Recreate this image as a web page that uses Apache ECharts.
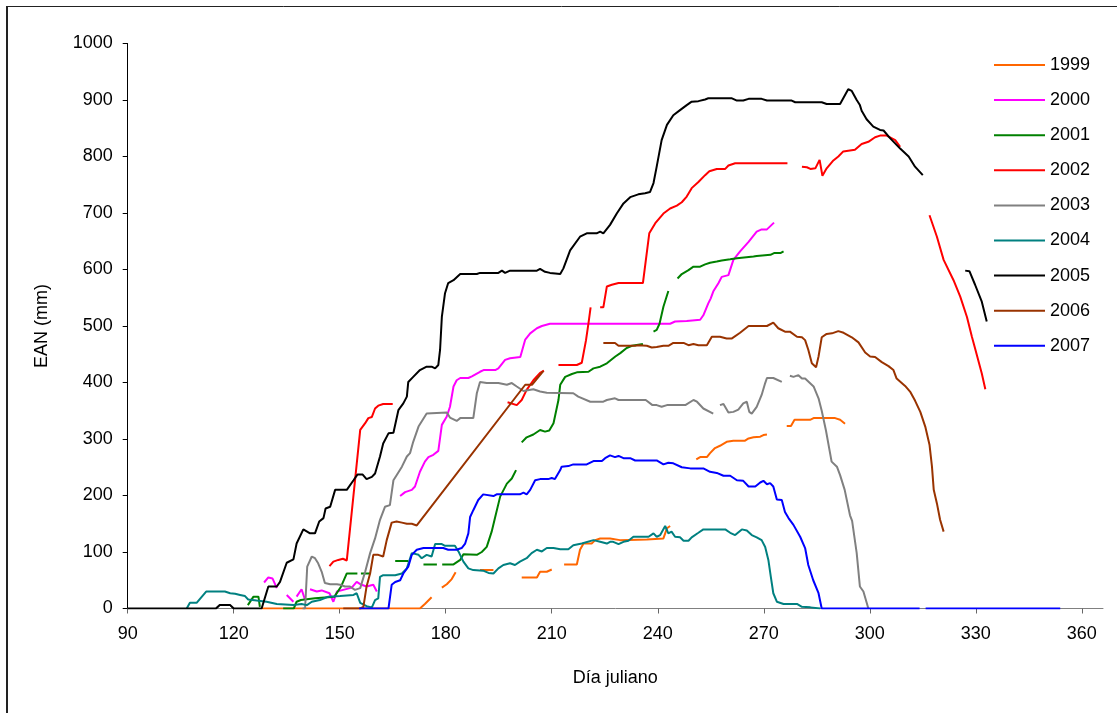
<!DOCTYPE html>
<html>
<head>
<meta charset="utf-8">
<script src="https://cdn.jsdelivr.net/npm/echarts@6/dist/echarts.min.js"></script>
<style>
  html, body { margin: 0; padding: 0; background: #ffffff; }
  #chart { width: 1117px; height: 713px; }
</style>
</head>
<body>
<div id="chart"></div>
<script>
// Seasonal EAN (mm) by julian day, one series per year.
// Each series is a list of unbroken segments of [day, value] pairs.
const years = ['1999', '2000', '2001', '2002', '2003', '2004', '2005', '2006', '2007'];
const colors = ['#FF6600', '#FF00FF', '#008000', '#FF0000', '#808080', '#008080', '#000000', '#993300', '#0000FF'];
const xTicks = [90, 120, 150, 180, 210, 240, 270, 300, 330, 360];

const s1999 = [
  [[127.9,0],[172.7,0],[174.1,8],[176,20]],
  [[178.9,37],[180.3,43],[181.7,52],[182.8,64]],
  [[189.7,68],[193.5,68]],
  [[201.5,55],[205.8,55],[206.7,65],[208.6,65],[210,69]],
  [[213.5,78],[217.1,78],[218,104],[219,115],[221.3,115],[222.3,121],[223.7,124],[226.5,124],[229.3,121],[236.9,122],[241.6,124],[242.1,133],[242.6,142],[243.5,146]],
  [[250.9,264],[252,268],[253.9,268],[254.8,275],[256.2,284],[257.6,288],[259.5,295],[261.4,297],[264.7,297],[265.7,301],[267.1,303],[269,304],[269.9,307],[270.9,308]],
  [[276.5,323],[277.7,323],[278.7,334],[283.1,334],[284.1,337],[290.2,337],[291.6,334],[293,327]]
];

const s2000 = [
  [[128.6,46],[129.8,55],[131,53],[132.2,36]],
  [[135,24],[136.9,12]],
  [[137.8,21],[139.2,34],[140.2,15]],
  [[141.6,34],[143.5,30],[144.9,32],[147.1,27],[148.2,12],[149.2,30],[151,33],[153.4,37],[154.8,47],[155.8,43],[157.6,39],[159.5,42],[160.5,30]],
  [[167.1,199],[168.5,206],[170.4,210],[171.3,216],[172.7,242],[174.1,260],[175.1,268],[176.5,272],[177.9,279],[178.9,325],[180.3,340],[181.2,357],[182.2,393],[183.1,404],[184.1,408],[186.4,408],[187.4,411],[189.7,419],[190.7,422],[194,422],[194.9,425],[196.8,440],[198.2,443],[201.1,445],[202.5,476],[203.9,487],[205.8,496],[207.2,500],[209.5,504],[243.5,504],[244.9,508],[248.2,509],[252,511],[252.9,519],[254.3,540],[255,549],[255.7,561],[257.2,576],[258.1,587],[260,590],[261.4,617],[263.3,632],[265.7,649],[268,667],[269.4,671],[270.9,671],[272.9,683]]
];

const s2001 = [
  [[124,6],[125.6,21],[127,21],[127.4,3]],
  [[134,0],[137,0],[137.8,12],[139,15],[143,18],[148.5,21],[150.4,39],[152,62],[155,62]],
  [[156,62],[158.6,62]],
  [[165.7,84],[169.4,84]],
  [[173.7,78],[177.5,78]],
  [[179,78],[182.2,78],[184.1,86],[185,96],[188.8,95],[190.2,100],[191.6,109],[193,136],[194,162],[195.4,198],[197.3,221],[198.7,230],[199.9,245]],
  [[201.5,294],[202.9,303],[204.8,308],[206.7,316],[208.1,313],[209.3,315],[210.5,328],[211.9,369],[212.4,396],[213.8,410],[215.7,415],[217.1,418],[220.4,419],[221.8,425],[223.7,428],[225.6,434],[228,446],[229.4,452],[231.2,461],[232.7,465],[235.8,468]],
  [[238.8,490],[239.7,493],[240.5,504],[241.6,534],[243,562]],
  [[245.6,584],[246.8,592],[248.7,599],[250.1,605],[252,605],[253.4,609],[254.8,612],[256.7,614],[258.1,616],[260.5,618],[262.4,620],[267.1,623],[268,624],[271.9,626],[272.9,629],[274.7,629],[275.6,632]]
];

const s2002 = [
  [[147.1,75],[148.2,83],[149.6,86],[150.9,88],[152,85],[155.8,316],[157.2,328],[158.1,337],[159.1,339],[160,354],[160.9,359],[162.3,362],[165,362]],
  [[197.5,365],[200.1,360],[201.5,369],[202.9,387],[204.8,404],[206.7,417],[207.8,421]],
  [[211.9,431],[217.1,431],[218.5,435],[219,435],[219.7,475],[220.4,505],[221,533]],
  [[223.7,533],[224.6,533],[225.6,570],[227,573],[228.9,576],[235.8,576],[237.6,664],[239.3,682],[241.6,699],[243.5,708],[245.4,713],[246.8,719],[248.2,729],[249.6,744],[251.5,755],[253.4,767],[254.6,774],[256.7,778],[259.1,778],[260,784],[261.9,788],[276.7,788]],
  [[280.8,782],[282.2,781],[283.2,778],[284.6,779],[285.8,794],[286.6,766],[287.8,779],[289.7,793],[291.1,800],[292.5,809],[295.8,812],[297.7,822],[299.6,826],[301.5,834],[302.9,837],[304.8,837],[307.2,829],[308.6,817]],
  [[316.9,696],[319,658],[320.9,617],[323.7,581],[325.6,552],[327.5,516],[328.9,481],[329.9,458],[331.7,416],[332.7,388]]
];

const s2003 = [
  [[115,0],[116,6],[119,6],[120,0]],
  [[139.5,0],[140.2,0],[140.8,74],[142.1,92],[143,89],[143.9,80],[144.9,65],[145.8,45],[147.3,43],[149.2,43],[150.1,42],[151.5,39],[152.9,39],[154.3,33],[155.8,36],[157.2,65],[158.6,98],[160,124],[161.4,157],[162.8,180],[164.2,183],[165.2,227],[166.1,236],[167.6,251],[169,269],[169.9,275],[170.8,295],[172.3,322],[174.6,345],[180.3,347],[181.2,338],[183.1,332],[184.1,337],[187.8,337],[188.8,381],[189.7,401],[191.6,399],[194.9,399],[197.3,396],[198.7,399],[200.1,393],[202,385],[204.8,388],[206.7,384],[208.6,382],[216.1,381],[217.5,375],[220.9,366],[224.6,366],[225.6,369],[227.9,372],[228.9,369],[236.6,369],[238.5,360],[239.7,360],[241.1,357],[242.6,360],[246.3,360],[246.8,363],[247.8,360],[250.1,369],[251.1,366],[252.9,354],[255.7,345]],
  [[257.6,360],[258.6,362],[260,347],[261.4,348],[262.8,352],[264.2,363],[265.2,366],[265.9,348],[266.6,345],[268,357],[269.4,378],[270.4,399],[270.9,408],[272.7,408],[275.1,401]],
  [[277.4,412],[278.4,410],[279.8,413],[280.8,407],[281.7,407],[284.1,393],[285.5,372],[286.4,350],[287.6,315],[289.2,260],[290.7,251],[291.6,236],[292.9,210],[294.4,165],[295,155],[296.3,98],[297.2,39],[298.2,30],[299.6,0]]
];

const s2004 = [
  [[106.7,0],[107.6,10],[109.5,10],[112.2,30],[117.5,30],[119,27],[120.4,26],[121.8,24],[123.2,22],[124.1,16],[126.5,14],[129.3,12],[132.2,8],[136.9,6],[139.2,8],[140.7,6],[142.1,12],[144.4,15],[146.8,21],[150.1,22],[153.9,24],[154.8,27],[155.8,10],[157.6,4],[159.1,2],[160,15],[160.9,18],[161.4,56],[162.3,59],[165.7,59],[167.6,62],[169,71],[170.4,98],[172.3,95],[173.2,89],[174.6,95],[176,92],[177,114],[178.9,114],[179.8,111],[182.6,111],[183.6,101],[185,83],[186.4,71],[187.8,68],[190.6,67],[192.1,63],[193.5,62],[194.9,71],[196.3,77],[198.2,80],[199.6,77],[201,83],[202.9,89],[204.3,98],[205.8,104],[207.2,101],[208.6,107],[210.5,107],[212.4,105],[214.7,105],[216.1,112],[218.5,115],[221.8,121],[223.7,118],[225.6,115],[226.5,118],[227.4,118],[228.9,114],[230.3,118],[231.7,120],[233.1,127],[237.4,127],[238.8,133],[239.7,127],[240.7,130],[241.1,127],[242.1,146],[243,133],[243.9,136],[244.9,127],[246.3,126],[247.3,120],[248.7,120],[249.6,126],[251.5,134],[252.9,140],[259.1,140],[260.5,134],[261.9,130],[263.8,140],[265.2,138],[266.6,130],[268,126],[269.4,121],[270.4,109],[271.3,86],[272,56],[272.7,27],[273.7,12],[275.6,8],[279.4,8],[280.8,3],[283.2,2],[286,0]]
];

const s2005 = [
  [[90,0],[115,0],[116,6],[119,6],[120,0],[127.9,0],[129.8,39],[132.2,39],[133.1,47],[135,81],[136.9,87],[137.8,115],[139.7,140],[141.6,133],[143,133],[144.2,154],[145.4,160],[146,177],[147.3,180],[148.7,210],[152,210],[153.9,227],[155,237],[156.5,237],[157.6,229],[159.1,233],[160,239],[161.4,269],[162.3,292],[163.8,310],[165.2,311],[166.6,351],[168,363],[169,375],[169.4,401],[170.8,410],[172.7,422],[174.6,428],[176,428],[177,425],[177.9,431],[178.4,458],[178.9,516],[179.8,558],[180.7,576],[182.2,581],[184.1,592],[188.8,592],[189.7,594],[194.9,594],[195.9,598],[196.8,594],[198.2,598],[205.8,598],[206.7,601],[208.1,596],[209.5,594],[211,593],[212.4,592],[213.3,602],[215.2,634],[218,658],[219.9,664],[222.7,664],[223.7,667],[224.6,664],[226.5,679],[228.4,699],[230.3,717],[232.2,728],[234.5,733],[236.4,735],[237.8,737],[238.8,753],[239.7,782],[241.1,829],[242.6,856],[244.4,873],[246.3,882],[248.2,891],[249.6,897],[251.5,898],[253.4,901],[254.3,903],[261,903],[262.4,899],[264.2,899],[265.7,902],[269.4,902],[270.9,899],[277.9,899],[278.9,896],[286.4,896],[287.8,893],[291.6,893],[293.9,919],[294.9,916],[296.3,900],[297.2,891],[297.7,881],[299.1,866],[301,853],[302.9,847],[303.9,846],[305.8,832],[308.6,814],[311,800],[312.8,782],[315,767]],
  [[327,598],[328.2,597],[329.8,573],[331.7,543],[333.1,508]]
];

const s2006 = [
  [[151,0],[155.8,0],[156.7,3],[157.6,39],[158.6,62],[159.5,95],[160.9,95],[162.3,92],[163.3,121],[164.7,152],[166.1,154],[167.6,152],[169,150],[170.4,150],[171.8,147],[202.5,396],[204.4,396],[207.6,420]],
  [[224.6,470],[227.9,470],[228.9,465],[233.6,465],[234.5,466],[236.9,465],[238.3,462],[239.7,463],[241.6,465],[243,465],[244.4,470],[247.3,470],[248.7,466],[250.1,468],[251.5,466],[253.9,466],[255.3,481],[257.6,481],[259.5,478],[261,478],[263.3,488],[265.7,500],[270.9,500],[272.7,506],[274.1,496],[276,490],[277.4,490],[279.4,481],[280.8,480],[281.7,475],[282.6,458],[283.6,434],[284.8,427],[285.5,446],[286.4,480],[287.8,486],[289.3,487],[291.1,491],[292.6,488],[294.9,480],[296.8,471],[298.7,453],[300.1,446],[301.5,445],[303.4,436],[305.3,429],[306.7,422],[307.6,407],[310,394],[311.4,384],[312.8,368],[314.3,348],[315.7,322],[316.9,290],[317.6,251],[318.1,210],[319,186],[319.9,157],[320.9,136]]
];

const s2007 = [
  [[155.5,0],[163.8,0],[164.7,42],[165.7,47],[167.1,50],[168,62],[169.4,74],[170.4,95],[171.8,104],[173.7,107],[179.3,107],[180.7,104],[183.1,104],[184.5,107],[185.5,115],[186.4,133],[186.9,162],[187.8,174],[189.2,192],[190.6,202],[193.5,199],[194.4,202],[201,202],[202,205],[202.9,202],[203.9,210],[205.3,227],[206.7,229],[209,229],[210,231],[210.9,229],[212.4,245],[212.8,251],[214.7,252],[216.1,255],[219.9,255],[221.8,261],[224.2,261],[225.1,266],[226.5,271],[227.9,268],[228.9,270],[230.3,266],[232.2,266],[233.6,262],[239.7,262],[241.6,255],[243,258],[244.4,257],[246.8,250],[249.2,248],[252.9,248],[254.8,242],[256.7,240],[258.6,235],[260.5,235],[262.4,227],[264.2,226],[265.7,216],[267.6,216],[269,223],[269.9,226],[270.9,220],[271.8,222],[272.7,216],[273.7,193],[275.1,192],[276,171],[277,160],[278.4,148],[280.3,127],[281.7,107],[282.6,77],[284,50],[285.5,27],[286.4,0],[314.1,0]],
  [[315.8,0],[353.9,0]]
];

const seriesSegments = [s1999, s2000, s2001, s2002, s2003, s2004, s2005, s2006, s2007];

// Flatten segments into one data list, with an empty point between segments
function joinSegments(segs) {
  const out = [];
  segs.forEach((seg, i) => {
    if (i > 0) out.push(['-', '-']);
    seg.forEach(p => out.push(p));
  });
  return out;
}

const FONT = "'Liberation Sans', Arial, sans-serif";

const chart = echarts.init(document.getElementById('chart'), null, { renderer: 'canvas' });

chart.setOption({
  animation: false,
  backgroundColor: '#ffffff',
  textStyle: { fontFamily: FONT },
  grid: { left: 127.7, right: 14, top: 43.5, bottom: 104.5, containLabel: false },
  legend: {
    orient: 'vertical',
    left: 994,
    top: 55,
    padding: 0,
    icon: 'rect',
    itemWidth: 51,
    itemHeight: 2,
    itemGap: 15.1,
    textStyle: { fontFamily: FONT, fontSize: 18, color: '#000', lineHeight: 20 },
    data: years
  },
  xAxis: {
    type: 'value',
    min: 90,
    max: 366,
    interval: 30,
    name: 'Día juliano',
    nameLocation: 'middle',
    nameGap: 61,
    nameTextStyle: { fontFamily: FONT, fontSize: 18, color: '#000' },
    axisLine: { show: true, onZero: false, lineStyle: { color: '#808080', width: 1 } },
    axisTick: { show: true, inside: false, length: 5, customValues: xTicks, lineStyle: { color: '#666666' } },
    axisLabel: { customValues: xTicks, margin: 17, fontFamily: FONT, fontSize: 18, color: '#000' },
    splitLine: { show: false }
  },
  yAxis: {
    type: 'value',
    min: 0,
    max: 1000,
    interval: 100,
    name: 'EAN (mm)',
    nameLocation: 'middle',
    nameGap: 77,
    nameRotate: 90,
    nameTextStyle: { fontFamily: FONT, fontSize: 18, color: '#000' },
    axisLine: { show: true, lineStyle: { color: '#000', width: 1 } },
    axisTick: { show: true, inside: false, length: 5, lineStyle: { color: '#000' } },
    axisLabel: { margin: 15, fontFamily: FONT, fontSize: 18, color: '#000', formatter: v => String(v) },
    splitLine: { show: false }
  },
  graphic: [
    { type: 'line', shape: { x1: 7, y1: 6, x2: 7, y2: 713 }, style: { stroke: '#222', lineWidth: 2 }, silent: true },
    { type: 'line', shape: { x1: 6, y1: 6.5, x2: 1117, y2: 6.5 }, style: { stroke: '#222', lineWidth: 1 }, silent: true }
  ],
  series: years.map((name, i) => ({
    name: name,
    type: 'line',
    data: joinSegments(seriesSegments[i]),
    showSymbol: false,
    symbol: 'none',
    connectNulls: false,
    clip: true,
    lineStyle: { color: colors[i], width: 2 },
    itemStyle: { color: colors[i] },
    emphasis: { disabled: true },
    z: 2 + i
  }))
});
</script>
</body>
</html>
